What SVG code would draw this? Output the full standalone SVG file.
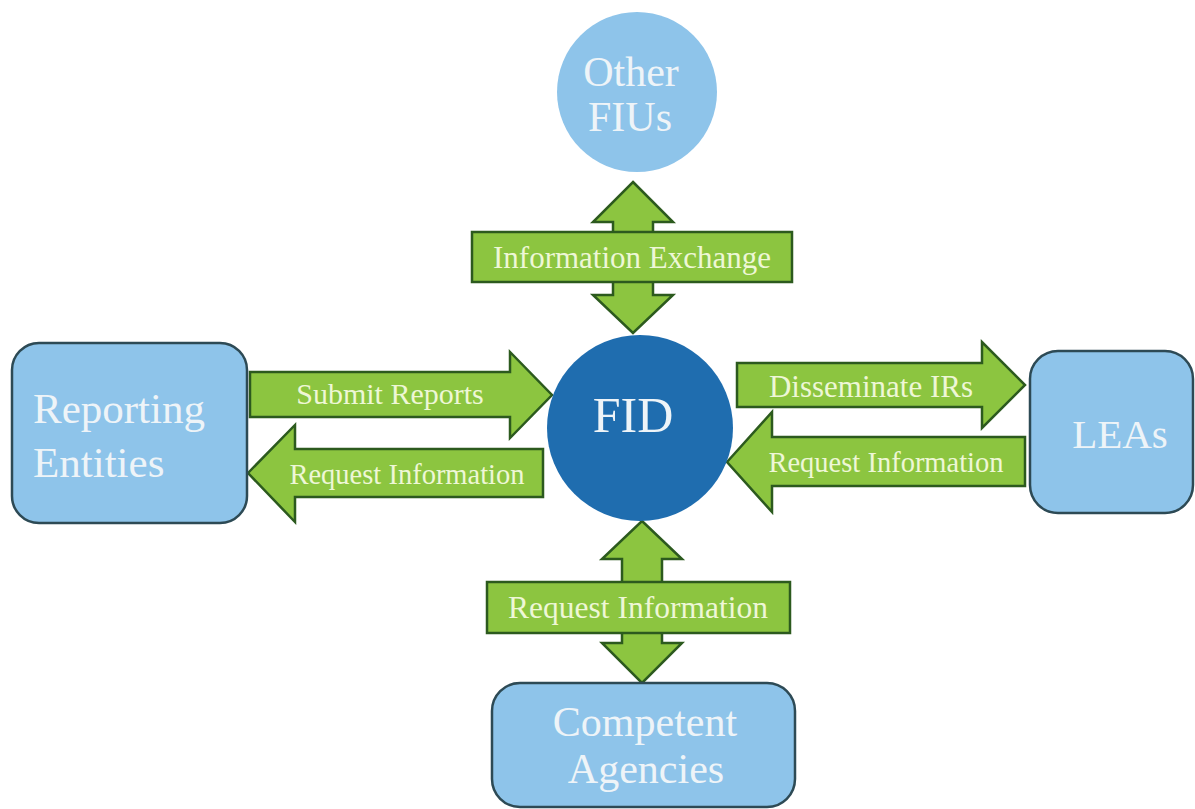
<svg xmlns="http://www.w3.org/2000/svg" width="1195" height="809" viewBox="0 0 1195 809">
<style>
.box{fill:#8EC4EA;stroke:#2D4A55;stroke-width:2.5}
.arr{fill:#8CC540;stroke:#2C5A1E;stroke-width:2.5;stroke-linejoin:miter}
.nt{font-family:"Liberation Serif",serif;fill:#EEF4F8}
.at{font-family:"Liberation Serif",serif;fill:#EEF7D6;text-anchor:middle}
</style>
<rect width="1195" height="809" fill="#ffffff"/>
<g id="connectors">
  <g id="c-fius">
    <path class="arr" d="M633,182 L673,222 L653,222 L653,295 L673,295 L633,333 L593,295 L613,295 L613,222 L593,222 Z"/>
    <rect class="arr" x="472" y="232" width="320" height="50"/>
    <text class="at" x="632" y="268" font-size="31">Information Exchange</text>
  </g>
  <g id="c-submit">
    <path class="arr" d="M250,372 L510,372 L510,352 L552,395 L510,438 L510,417 L250,417 Z"/>
    <text class="at" x="390" y="404" font-size="30">Submit Reports</text>
  </g>
  <g id="c-req-re">
    <path class="arr" d="M248,473 L295,425 L295,449 L543,449 L543,497 L295,497 L295,522 Z"/>
    <text class="at" x="407" y="484" font-size="28.5">Request Information</text>
  </g>
  <g id="c-dissem">
    <path class="arr" d="M737,363 L982,363 L982,342 L1025,385 L982,428 L982,407 L737,407 Z"/>
    <text class="at" x="871" y="397" font-size="31">Disseminate IRs</text>
  </g>
  <g id="c-req-lea">
    <path class="arr" d="M727,462 L772,412 L772,437 L1025,437 L1025,486 L772,486 L772,512 Z"/>
    <text class="at" x="886" y="472" font-size="28.5">Request Information</text>
  </g>
  <g id="c-req-ca">
    <path class="arr" d="M642,521 L682,559 L662,559 L662,643 L682,643 L642,683 L602,643 L622,643 L622,559 L602,559 Z"/>
    <rect class="arr" x="487" y="582" width="303" height="51"/>
    <text class="at" x="638" y="618" font-size="31.5">Request Information</text>
  </g>
</g>
<g id="node-fius">
  <circle cx="637" cy="92" r="80" fill="#8EC4EA"/>
  <text class="nt" x="631" y="86" font-size="42" text-anchor="middle">Other</text>
  <text class="nt" x="630" y="131" font-size="42" text-anchor="middle">FIUs</text>
</g>
<g id="node-fid">
  <circle cx="640" cy="428" r="93" fill="#1F6DAF"/>
  <text class="nt" x="633" y="432" font-size="50" text-anchor="middle">FID</text>
</g>
<g id="node-re">
  <rect class="box" x="12" y="343" width="235" height="180" rx="27"/>
  <text class="nt" x="33" y="423" font-size="43">Reporting</text>
  <text class="nt" x="33" y="477" font-size="43">Entities</text>
</g>
<g id="node-lea">
  <rect class="box" x="1030" y="351" width="163" height="162" rx="28"/>
  <text class="nt" x="1120" y="448" font-size="41" text-anchor="middle">LEAs</text>
</g>
<g id="node-ca">
  <rect class="box" x="492" y="683" width="303" height="124" rx="28"/>
  <text class="nt" x="645" y="736" font-size="42" text-anchor="middle">Competent</text>
  <text class="nt" x="646" y="783" font-size="42" text-anchor="middle">Agencies</text>
</g>
</svg>
